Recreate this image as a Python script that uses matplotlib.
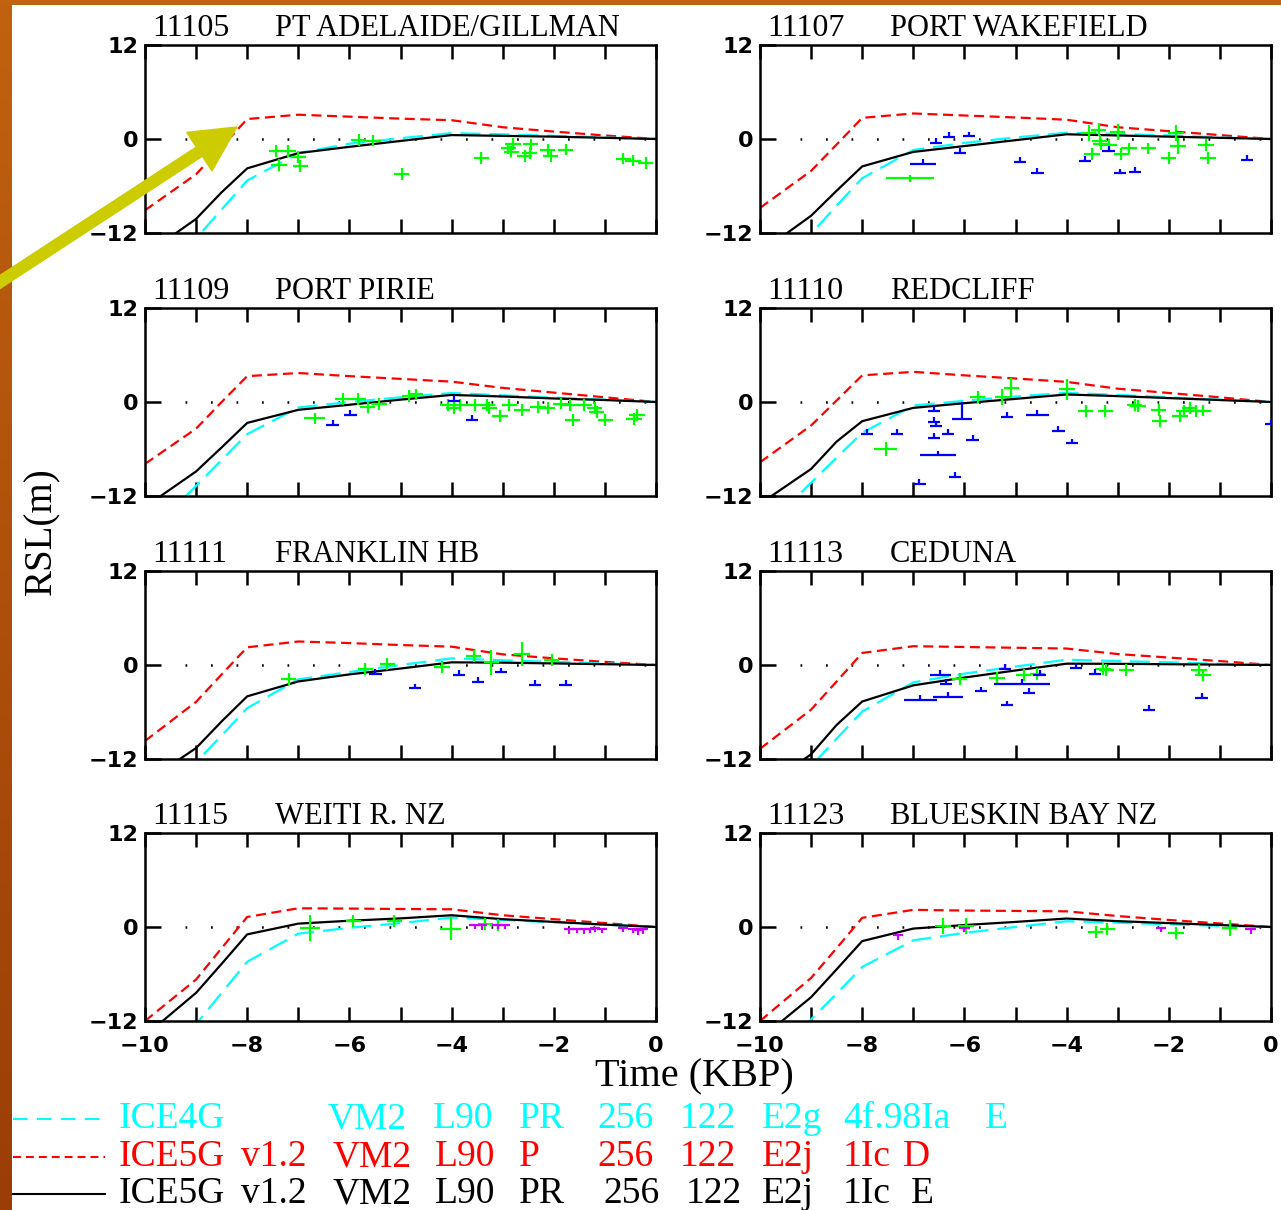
import matplotlib.pyplot as plt
import numpy as np
from matplotlib.lines import Line2D
from matplotlib.patches import FancyArrow, Rectangle
from matplotlib.transforms import offset_copy

# ---- data ----
SITE_IDS = ['11105', '11107', '11109', '11110', '11111', '11113', '11115', '11123']
SITE_NAMES = ['PT ADELAIDE/GILLMAN', 'PORT WAKEFIELD', 'PORT PIRIE', 'REDCLIFF',
              'FRANKLIN HB', 'CEDUNA', 'WEITI R. NZ', 'BLUESKIN BAY NZ']

MODEL_T = [-10, -9, -8.5, -8, -7, -6, -5, -4, -3, -2, -1, 0]

# ICE4G VM2 (cyan, long dash)
ICE4G_RSL = [
    [-20.0, -12.7, -9.0, -5.3, -1.8, -0.6, 0.1, 0.75, 0.6, 0.4, 0.2, 0],
    [-19.5, -12.1, -8.5, -5.0, -1.4, -0.5, 0.2, 0.8, 0.65, 0.45, 0.2, 0],
    [-17.3, -10.7, -7.4, -4.1, -0.7, 0.0, 0.6, 1.15, 0.85, 0.55, 0.3, 0],
    [-16.7, -10.3, -7.1, -3.94, -0.45, 0.15, 0.7, 1.17, 0.9, 0.6, 0.3, 0],
    [-19.5, -12.4, -9.0, -5.5, -1.83, -0.9, 0.0, 0.85, 0.6, 0.4, 0.2, 0],
    [-21.0, -12.9, -9.4, -5.94, -2.22, -1.1, -0.2, 0.68, 0.5, 0.35, 0.15, 0],
    [-18.0, -12.4, -8.4, -4.43, -0.85, -0.1, 0.5, 1.2, 0.9, 0.6, 0.3, 0],
    [-18.5, -11.8, -8.5, -5.1, -1.7, -0.75, 0.0, 0.74, 0.55, 0.35, 0.15, 0],
]
# ICE5G v1.2 VM2 P (red, short dash)
ICE5G_P_RSL = [
    [-9.1, -4.5, -1.0, 2.55, 3.1, 2.85, 2.6, 2.4, 1.5, 0.95, 0.45, 0],
    [-8.8, -4.07, -0.7, 2.7, 3.26, 3.0, 2.75, 2.46, 1.5, 1.0, 0.5, 0],
    [-7.9, -3.4, 0.0, 3.3, 3.7, 3.3, 2.95, 2.6, 1.8, 1.2, 0.6, 0],
    [-7.7, -3.0, 0.2, 3.4, 3.85, 3.4, 3.0, 2.57, 1.7, 1.15, 0.6, 0],
    [-9.7, -4.7, -1.2, 2.26, 3.0, 2.8, 2.55, 2.34, 1.36, 0.85, 0.4, 0],
    [-10.7, -5.7, -2.1, 1.54, 2.4, 2.3, 2.2, 2.1, 1.4, 0.95, 0.5, 0],
    [-12.0, -6.7, -2.7, 1.28, 2.39, 2.35, 2.3, 2.26, 1.5, 1.0, 0.5, 0],
    [-12.0, -6.5, -2.7, 1.17, 2.19, 2.1, 2.05, 2.0, 1.4, 0.9, 0.45, 0],
]
# ICE5G v1.2 VM2 PR (black, solid)
ICE5G_PR_RSL = [
    [-14.8, -10.2, -6.8, -3.75, -1.8, -1.0, -0.25, 0.5, 0.4, 0.3, 0.15, 0],
    [-14.5, -9.8, -6.6, -3.5, -1.65, -0.9, -0.15, 0.6, 0.45, 0.3, 0.15, 0],
    [-13.4, -8.86, -5.8, -2.67, -1.0, -0.35, 0.3, 0.9, 0.7, 0.45, 0.25, 0],
    [-13.0, -8.55, -5.05, -2.45, -0.75, -0.15, 0.4, 0.96, 0.75, 0.5, 0.25, 0],
    [-15.0, -10.6, -7.2, -4.0, -2.1, -1.2, -0.45, 0.34, 0.3, 0.2, 0.1, 0],
    [-16.0, -11.4, -7.65, -4.66, -2.6, -1.6, -0.7, 0.17, 0.15, 0.1, 0.05, 0],
    [-13.9, -8.4, -4.7, -0.94, 0.43, 0.8, 1.1, 1.5, 1.0, 0.65, 0.3, 0],
    [-14.3, -8.96, -5.4, -1.8, -0.2, 0.25, 0.65, 1.08, 0.75, 0.5, 0.25, 0],
]

# sea-level index points: (time, rsl[, dt, drsl])
GREEN_PTS = [
    [(-7.43, -1.57), (-7.2, -1.57), (-7.38, -3.3), (-7.0, -2.3), (-6.96, -3.4),
     (-5.82, -0.1), (-5.53, -0.2), (-4.98, -4.5), (-3.42, -2.4), (-2.89, -1.2),
     (-2.8, -0.6), (-2.83, -1.6), (-2.57, -2.2), (-2.45, -0.7), (-2.47, -1.75),
     (-2.12, -1.45), (-2.06, -2.2), (-1.77, -1.35), (-0.64, -2.5), (-0.45, -2.75),
     (-0.2, -3.1)],
    [(-7.07, -5.04, 0.47, 0.4), (-3.57, 0.8, 0.15, 1.0), (-3.37, 1.2, 0.15, 0.8),
     (-3.35, -0.2), (-3.33, -0.7), (-3.5, -1.95), (-3.17, -0.75), (-3.0, 0.9, 0.15, 1.0),
     (-2.93, -1.95), (-2.78, -1.2), (-2.4, -1.2), (-2.0, -2.4), (-1.86, 0.8, 0.15, 1.0),
     (-1.82, -0.9, 0.15, 1.0), (-1.27, -0.75), (-1.23, -2.4)],
    [(-6.68, -2.1, 0.2, 0.75), (-6.13, 0.42), (-5.83, 0.42), (-5.64, -0.6), (-5.42, -0.3),
     (-4.83, 0.76), (-4.7, 0.97), (-4.08, -0.42), (-3.96, -0.72), (-3.84, -0.38),
     (-3.55, -0.38), (-3.3, -0.38), (-3.26, -0.72), (-3.05, -1.78), (-2.87, -0.42),
     (-2.62, -1.0), (-2.31, -0.6), (-2.12, -0.72), (-1.86, -0.2), (-1.69, -0.38),
     (-1.63, -2.33), (-1.4, -0.38), (-1.2, -0.72), (-1.16, -1.23), (-0.99, -2.33),
     (-0.43, -2.2), (-0.37, -1.65)],
    [(-7.54, -6.0, 0.22, 0.9), (-5.74, 0.6), (-5.26, 0.6, 0.15, 1.0), (-5.08, 1.8, 0.15, 1.3),
     (-3.99, 1.6, 0.15, 1.3), (-3.63, -1.17), (-3.24, -1.17), (-2.67, -0.4), (-2.6, -0.53),
     (-2.2, -1.04), (-2.18, -2.45), (-1.78, -1.8), (-1.7, -1.17), (-1.59, -0.75),
     (-1.47, -1.17), (-1.33, -1.09)],
    [(-7.19, -1.79), (-5.69, -0.51), (-5.26, 0.13), (-4.19, -0.3), (-3.57, 1.15),
     (-3.22, 0.34, 0.15, 1.6), (-2.62, 1.36, 0.15, 1.55), (-2.04, 0.64)],
    [(-6.09, -1.75), (-5.36, -1.67), (-4.84, -1.32), (-4.57, -1.15), (-3.29, -0.51),
     (-3.22, -0.68), (-2.83, -0.6), (-1.41, -0.6), (-1.33, -1.24)],
    [(-6.77, -0.09, 0.2, 1.65), (-5.92, 0.77, 0.15, 0.8), (-5.12, 0.77),
     (-4.02, -0.21, 0.2, 1.5), (-3.34, 0.34), (-3.09, 0.26)],
    [(-6.42, 0.1, 0.15, 1.0), (-5.97, 0.1, 0.15, 1.0), (-3.43, -0.6), (-3.2, -0.23),
     (-1.86, -0.74), (-0.81, -0.1, 0.15, 1.0)],
]

# limiting dates (blue, tick upward): (time, rsl[, dt, tick])
BLUE_PTS = [
    [],
    [(-6.55, -0.47), (-6.30, 0.25), (-5.91, 0.34), (-6.81, -3.2, 0.25), (-6.09, -1.75),
     (-4.91, -2.9), (-4.57, -4.35), (-3.64, -2.8), (-3.18, -1.5), (-2.95, -4.4),
     (-2.66, -4.2), (-0.47, -2.7)],
    [(-6.33, -2.9), (-5.98, -1.65), (-3.96, 0.13), (-3.6, -2.3)],
    [(-7.91, -4.06), (-7.32, -4.06), (-6.6, -1.17), (-6.6, -2.53), (-6.55, -3.09),
     (-6.59, -4.57), (-6.32, -4.06), (-6.51, -6.8, 0.35), (-6.05, -2.23, 0.2, 2.2),
     (-5.84, -4.79), (-5.17, -1.94), (-4.57, -1.68, 0.22), (-4.16, -3.72), (-3.9, -5.26),
     (-6.88, -10.47), (-6.19, -9.53), (0.0, -2.87)],
    [(-5.49, -1.15), (-4.72, -2.98), (-3.86, -1.28), (-3.48, -2.13), (-3.04, -0.94),
     (-2.37, -2.55), (-1.77, -2.55)],
    [(-6.47, -1.24, 0.2), (-6.36, -2.44), (-6.86, -4.44, 0.33), (-6.32, -4.1, 0.3),
     (-5.67, -3.38), (-5.21, -0.47), (-5.16, -5.17), (-4.88, -2.44, 0.55), (-4.74, -3.59),
     (-4.53, -1.24), (-3.81, -0.38), (-3.45, -1.11), (-2.39, -5.73), (-1.36, -4.23)],
    [],
    [],
]

# limiting dates (magenta, tick downward)
MAGENTA_PTS = [
    [], [], [], [], [], [],
    [(-3.55, 0.3), (-3.4, 0.2), (-3.1, 0.3), (-2.95, 0.3), (-1.7, -0.3), (-1.55, -0.2),
     (-1.4, -0.3), (-1.3, -0.2), (-1.2, -0.1), (-1.05, -0.2), (-0.65, -0.1),
     (-0.45, -0.2), (-0.35, -0.4), (-0.25, -0.3)],
    [(-7.3, -1.0), (-6.0, -0.1), (-2.15, -0.1), (-0.4, -0.3)],
]

LEGEND_CYAN = ['ICE4G', 'VM2', 'L90', 'PR', '256', '122', 'E2g', '4f.98Ia', 'E']
LEGEND_RED = ['ICE5G', 'v1.2', 'VM2', 'L90', 'P', '256', '122', 'E2j', '1Ic', 'D']
LEGEND_BLACK = ['ICE5G', 'v1.2', 'VM2', 'L90', 'PR', '256', '122', 'E2j', '1Ic', 'E']

# layout (pixels) of the legend words
LEG_X_CYAN = [119, 328, 433, 519, 597, 680, 762, 843, 985]
LEG_X_RED = [119, 241, 333, 435, 519, 597, 680, 762, 843, 903]
LEG_X_BLACK = [119, 241, 333, 435, 519, 603, 686, 762, 843, 911]

C_CYAN = '#00ffff'
C_RED = '#ff0000'
C_GREEN = '#00ff00'
C_BLUE = '#0000ff'
C_MAG = '#cc00ff'

W, H = 1281, 1210
SERIF = 'Liberation Serif'


def fx(px):
    return px / W


def fy(py):
    return 1 - py / H


def split_pts(pts, d1, d2):
    t = [p[0] for p in pts]
    r = [p[1] for p in pts]
    a = [p[2] if len(p) > 2 else d1 for p in pts]
    b = [p[3] if len(p) > 3 else d2 for p in pts]
    return t, r, a, b


def draw_site(ax, i, bottom_row):
    ax.plot([-9.22, 0], [0, 0], color='k', lw=1.8, ls=(0, (0.7, 9.5)), zorder=1)
    ax.plot(MODEL_T, ICE5G_P_RSL[i], color=C_RED, lw=1.6, ls=(0, (4.5, 2.5)), zorder=2)
    ax.plot(MODEL_T, ICE4G_RSL[i], color=C_CYAN, lw=1.6, ls=(0, (9, 4)), zorder=2)
    ax.plot(MODEL_T, ICE5G_PR_RSL[i], color='k', lw=1.6, zorder=3)

    if GREEN_PTS[i]:
        t, r, dt, dr = split_pts(GREEN_PTS[i], 0.15, 0.75)
        ax.errorbar(t, r, xerr=dt, yerr=dr, fmt='none', ecolor=C_GREEN,
                    elinewidth=1.6, capsize=0, zorder=4)
    if BLUE_PTS[i]:
        t, r, dt, up = split_pts(BLUE_PTS[i], 0.12, 0.6)
        ax.errorbar(t, r, xerr=dt, yerr=[np.zeros(len(t)), up], fmt='none',
                    ecolor=C_BLUE, elinewidth=1.6, capsize=0, zorder=4)
    if MAGENTA_PTS[i]:
        t, r, dt, dn = split_pts(MAGENTA_PTS[i], 0.1, 0.6)
        ax.errorbar(t, r, xerr=dt, yerr=[dn, np.zeros(len(t))], fmt='none',
                    ecolor=C_MAG, elinewidth=1.6, capsize=0, zorder=4)

    ax.set_xlim(-10, 0)
    ax.set_ylim(-12, 12)
    for sp in ax.spines.values():
        sp.set_linewidth(1.8)

    ax.set_xticks(range(-10, 1))
    if bottom_row:
        labels = ['\u221210', '', '\u22128', '', '\u22126', '', '\u22124', '', '\u22122', '', '0']
        ax.set_xticklabels(labels, fontsize=16, fontweight='bold', family='DejaVu Sans')
    ax.tick_params(axis='x', direction='in', length=10, width=1.8, top=True, bottom=True,
                   labelbottom=bottom_row, pad=11)
    ax.set_yticks([-12, 0, 12])
    ax.set_yticklabels(['\u221212', '0', '12'], fontsize=16, fontweight='bold',
                       family='DejaVu Sans')
    ax.tick_params(axis='y', direction='in', length=11.5, width=1.8, left=True, right=False,
                   pad=5)

    tr_id = offset_copy(ax.transAxes, fig=ax.figure, x=7, y=9, units='dots')
    ax.text(0, 1, SITE_IDS[i], transform=tr_id, ha='left', va='baseline',
            fontsize=23, family=SERIF)
    tr_nm = offset_copy(ax.transAxes, fig=ax.figure, x=130, y=9, units='dots')
    ax.text(0, 1, SITE_NAMES[i], transform=tr_nm, ha='left', va='baseline',
            fontsize=22, family=SERIF)


fig = plt.figure(figsize=(W / 100, H / 100), dpi=100)

# slide background: orange-brown border with white page
bg = fig.add_axes([0, 0, 1, 1], zorder=-10)
grad = np.linspace(0, 1, 256).reshape(-1, 1)
bg.imshow(grad, aspect='auto', extent=[0, 1, 0, 1],
          cmap=plt.matplotlib.colors.LinearSegmentedColormap.from_list(
              'bgr', ['#c0620f', '#9c3d07']), origin='upper')
bg.add_patch(Rectangle((fx(12), 0), 1 - fx(12), fy(5), facecolor='white',
                       edgecolor='none'))
bg.set_xlim(0, 1)
bg.set_ylim(0, 1)
bg.axis('off')

col_left = [145, 760]
row_top = [45, 308, 571, 833]
ax_w, ax_h = 511, 188

for i in range(8):
    r, c = divmod(i, 2)
    ax = fig.add_axes([fx(col_left[c]), fy(row_top[r] + ax_h), ax_w / W, ax_h / H])
    draw_site(ax, i, r == 3)

fig.text(fx(694), fy(1077), 'Time (KBP)', ha='center', va='center',
         fontsize=29, family=SERIF)
fig.text(fx(42), fy(531), 'RSL(m)', ha='center', va='center', rotation=90,
         fontsize=28, family=SERIF)

# legend
leg_y = [1119, 1157, 1194]
leg_col = [C_CYAN, C_RED, 'k']
leg_ls = [(0, (7, 4.5)), (0, (3.8, 2.4)), '-']
leg_words = [LEGEND_CYAN, LEGEND_RED, LEGEND_BLACK]
leg_x = [LEG_X_CYAN, LEG_X_RED, LEG_X_BLACK]
for y, col, ls, words, xs in zip(leg_y, leg_col, leg_ls, leg_words, leg_x):
    fig.add_artist(Line2D([fx(13), fx(105)], [fy(y), fy(y)], color=col, lw=1.5, ls=ls,
                          transform=fig.transFigure))
    for x, w in zip(xs, words):
        fig.text(fx(x), fy(y), w, ha='left', va='center', color=col,
                 fontsize=27, family=SERIF)

# highlight arrow
fig.add_artist(FancyArrow(-0.10, 9.215, 2.47, 1.615, width=0.11, head_width=0.46,
                          head_length=0.45, length_includes_head=True,
                          color='#cccc00', transform=fig.dpi_scale_trans, zorder=20))

fig.savefig('out.png', dpi=100)
